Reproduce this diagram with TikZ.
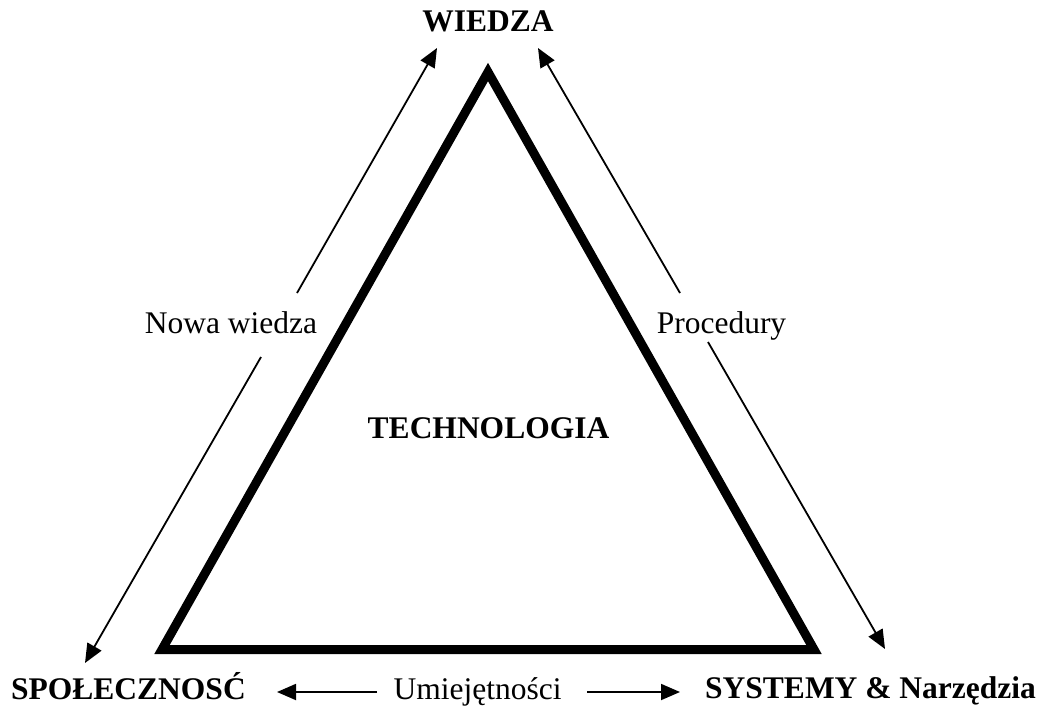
\documentclass[tikz,border=0pt]{standalone}
\usepackage{fontspec}
\setmainfont{Liberation Serif}
\usetikzlibrary{arrows.meta}
\begin{document}
\begin{tikzpicture}[x=1pt,y=-1pt,
  lbl/.style={font=\fontsize{31.5}{36}\selectfont, inner sep=0pt},
  blbl/.style={font=\fontsize{31.5}{36}\selectfont\bfseries, inner sep=0pt},
  conn/.style={line width=1.8pt, -{Triangle[length=19pt,width=16pt]}},
  tri/.style={line width=9pt, miter limit=10}]
\useasboundingbox (0,0) rectangle (1043,709);
% triangle
\coordinate (A) at (488,72);
\coordinate (B) at (162,649.5);
\coordinate (C) at (814,649.5);
\draw[tri] (A) -- (B) -- (C) -- cycle;
% labels
\node[blbl, anchor=base] (wiedza) at (488,32) {WIEDZA};
\node[blbl, anchor=base] (tech) at (488.5,438) {TECHNOLOGIA};
\node[blbl, anchor=base west] (spol) at (11,699) {SPOŁECZNOSĆ};
\node[blbl, anchor=base west] (sys) at (705,698) {SYSTEMY \& Narzędzia};
\node[lbl, anchor=base] (nowa) at (231,333) {Nowa wiedza};
\node[lbl, anchor=base] (proc) at (721.5,333) {Procedury};
\node[lbl, anchor=base] (umie) at (477.5,699) {Umiejętności};
% left diagonal arrow (broken by label)
\coordinate (L1) at (437,48);
\coordinate (L2) at (297,293);
\coordinate (L3) at (261,357);
\coordinate (L4) at (85,663);
\draw[conn] (L2) -- (L1);
\draw[conn] (L3) -- (L4);
% right diagonal arrow
\coordinate (R1) at (538,48);
\coordinate (R2) at (680,293);
\coordinate (R3) at (708,342);
\coordinate (R4) at (885,649);
\draw[conn] (R2) -- (R1);
\draw[conn] (R3) -- (R4);
% bottom arrows
\coordinate (B1) at (377,692);
\coordinate (B2) at (277,692);
\coordinate (B3) at (587,692);
\coordinate (B4) at (680,692);
\draw[conn] (B1) -- (B2);
\draw[conn] (B3) -- (B4);
\end{tikzpicture}
\end{document}
